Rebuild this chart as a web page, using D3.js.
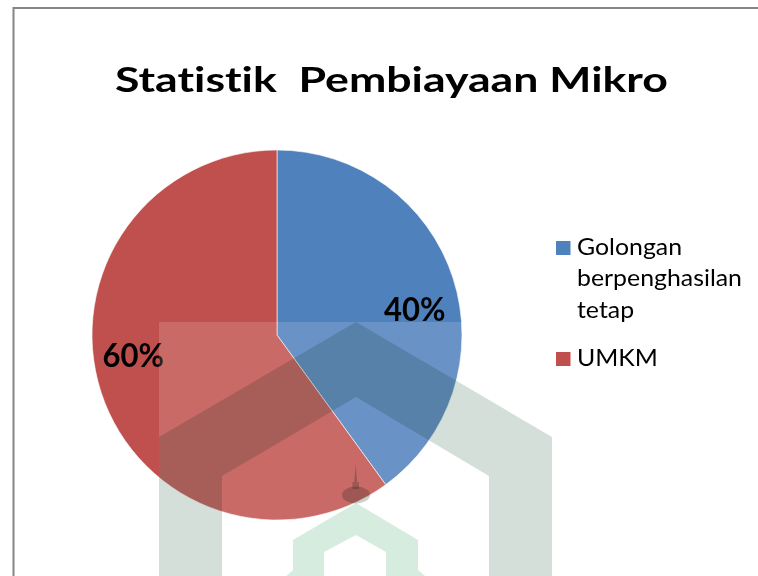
<!doctype html>
<html>
  <head>
    <script src="https://cdn.jsdelivr.net/npm/d3@7"></script>
    <style>
      body { margin: 0; background: #fff; }
      svg { display: block; font-family: Lato, "Open Sans", sans-serif; font-variant-ligatures: none; }
      rect.frame { fill: none; stroke: #868686; stroke-width: 2; }
      text.title { font-weight: bold; fill: #000; font-size: 34px; }
      text.pct { font-weight: bold; fill: #000; font-size: 31.5px; }
      text.legend { fill: #000; font-size: 22.5px; }
      path.slice { stroke: #fff; stroke-width: 0.6; }
      .wm-band { fill: #d4dfd9; mix-blend-mode: multiply; }
      .wm-green { fill: #d5ecdf; mix-blend-mode: multiply; }
    </style>
  </head>
  <body>
    <svg width="758" height="576"></svg>
    <script>
      // chart data
      var title = "Statistik  Pembiayaan Mikro";
      var categories = ["Golongan berpenghasilan tetap", "UMKM"];
      var legendLines = [["Golongan", "berpenghasilan", "tetap"], ["UMKM"]];
      var values = [40, 60];
      var colors = ["#4F81BD", "#C0504D"];

      var svg = d3.select("svg");

      // squeeze a text element to a target width (Calibri is narrower than Lato)
      function squeeze(sel, width) {
        sel.attr("textLength", width).attr("lengthAdjust", "spacingAndGlyphs");
      }

      svg.append("rect").attr("class", "frame")
        .attr("x", 13.5).attr("y", 8).attr("width", 800).attr("height", 600);

      var title_t = svg.append("text").attr("class", "title")
        .attr("x", 115).attr("y", 92)
        .attr("xml:space", "preserve")
        .text(title);
      squeeze(title_t, 553);

      // pie
      var cx = 277, cy = 335, r = 185;
      var pie = d3.pie().sort(null).value(d => d);
      var arcs = pie(values);
      var arc = d3.arc().innerRadius(0).outerRadius(r);

      var g = svg.append("g").attr("transform", "translate(" + cx + "," + cy + ")");
      g.selectAll("path.slice").data(arcs)
        .enter().append("path")
          .attr("class", "slice")
          .attr("d", arc)
          .style("fill", (d, i) => colors[i]);

      var pctW = 61.5;
      g.selectAll("text.pct").data(arcs)
        .enter().append("text")
          .attr("class", "pct")
          .each(function(d) {
            var a = (d.startAngle + d.endAngle) / 2;
            var x = 148 * Math.sin(a) - 3;
            var y = -148 * Math.cos(a) * 0.5 - 2.5;
            var t = d3.select(this)
              .attr("x", x - pctW / 2)
              .attr("y", y + 11.3)
              .text(d3.format(".0%")(d.value / d3.sum(values)));
            squeeze(t, pctW);
          });

      // legend
      var lg = svg.append("g").attr("transform", "translate(556,0)");
      var lineH = 31.5;
      var tops = [241, 352];
      legendLines.forEach(function(lines, i) {
        lg.append("rect")
          .attr("x", 0).attr("y", tops[i])
          .attr("width", 14.5).attr("height", 14)
          .style("fill", colors[i]);
        lines.forEach(function(line, j) {
          lg.append("text").attr("class", "legend")
            .attr("x", 21).attr("y", tops[i] + 13.5 + j * lineH)
            .text(line);
        });
      });
      var ref = lg.selectAll("text.legend").filter(function() { return this.textContent === "berpenghasilan"; });
      var ratio = 165 / ref.node().getComputedTextLength();
      lg.selectAll("text.legend").each(function() {
        squeeze(d3.select(this), this.getComputedTextLength() * ratio);
      });

      // watermark overlay
      var wm = svg.append("g").attr("class", "watermark");
      wm.append("rect")
        .attr("x", 159).attr("y", 322).attr("width", 393).attr("height", 260)
        .style("fill", "#fff").style("fill-opacity", 0.15);
      var band = [[159,580],[159,437],[356,322],[552,437],[552,580],
                  [489,580],[489,476],[356,397],[222,476],[222,580]];
      wm.append("path").attr("class", "wm-band")
        .attr("d", d3.line()(band) + "Z");
      var green = [[282,580],[293,570],[293,540],[356,503],[418,540],[418,570],[430,580],
                   [386,580],[386,552],[356,535],[324,552],[324,580]];
      wm.append("path").attr("class", "wm-green")
        .attr("d", d3.line()(green) + "Z");
      var spire = [[355.7,464],[357.3,482],[359,482],[359,489],[352.4,489],[352.4,482],[354.1,482]];
      wm.append("path").attr("class", "wm-band")
        .style("fill", "#c8d2cd")
        .attr("d", d3.line()(spire) + "Z");
      wm.append("ellipse").attr("class", "wm-band")
        .style("fill", "#c8d2cd")
        .attr("cx", 356).attr("cy", 495).attr("rx", 14).attr("ry", 8.5);
    </script>
  </body>
</html>
